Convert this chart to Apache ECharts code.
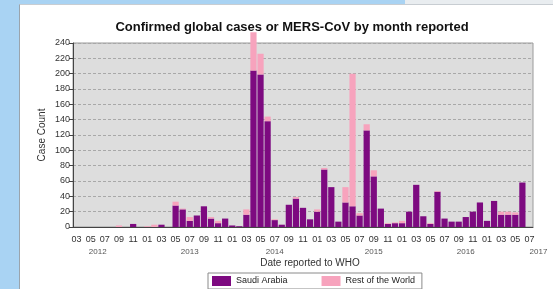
<!DOCTYPE html>
<html>
<head>
<meta charset="utf-8">
<title>MERS-CoV by month</title>
<script src="https://cdn.jsdelivr.net/npm/echarts@6/dist/echarts.min.js"></script>
<style>
  html, body { margin: 0; padding: 0; width: 553px; height: 289px; overflow: hidden; background: #a9d3f3; }
  #strip { position: absolute; left: 405px; top: 0; width: 148px; height: 4px; background: #e9edf0; }
  #frame { position: absolute; left: 19px; top: 4px; width: 534px; height: 285px; background: #fff;
           border-left: 1px solid #9aa4ad; border-top: 1px solid #c8cdd2; box-sizing: border-box; }
  #main { position: absolute; left: 0; top: 0; width: 553px; height: 289px; }
</style>
</head>
<body>
<div id="strip"></div>
<div id="frame"></div>
<div id="main"></div>
<script>
// months reported (category axis)
var months = [
  '2012-03','2012-04','2012-05','2012-06','2012-07','2012-08','2012-09','2012-10','2012-11','2012-12',
  '2013-01','2013-02','2013-03','2013-04','2013-05','2013-06','2013-07','2013-08','2013-09','2013-10','2013-11','2013-12',
  '2014-01','2014-02','2014-03','2014-04','2014-05','2014-06','2014-07','2014-08','2014-09','2014-10','2014-11','2014-12',
  '2015-01','2015-02','2015-03','2015-04','2015-05','2015-06','2015-07','2015-08','2015-09','2015-10','2015-11','2015-12',
  '2016-01','2016-02','2016-03','2016-04','2016-05','2016-06','2016-07','2016-08','2016-09','2016-10','2016-11','2016-12',
  '2017-01','2017-02','2017-03','2017-04','2017-05','2017-06','2017-07'
];
// Saudi Arabia cases per month
var saudi = [
  0, 0, 0, 0, 0, 0, 0, 0, 4, 0,
  0, 0, 3, 0, 28, 23, 8, 15, 27, 11, 5, 11,
  2, 1, 16, 204, 199, 138, 9, 3, 29, 37, 25, 10,
  20, 75, 52, 7, 32, 27, 15, 126, 66, 24, 4, 5,
  5, 20, 55, 14, 4, 46, 11, 7, 7, 13, 20, 32,
  8, 34, 16, 16, 16, 58, 0
];
// rest of the world cases per month
var rest = [
  0, 0, 0, 0, 0, 0, 2, 0, 0, 0,
  1, 3, 0, 0, 5, 1, 5, 0, 0, 2, 3, 0,
  0, 0, 7, 50, 27, 6, 1, 0, 0, 2, 0, 0,
  3, 2, 0, 0, 20, 173, 3, 8, 8, 0, 1, 1,
  3, 0, 0, 0, 1, 1, 0, 0, 0, 0, 0, 0,
  0, 0, 4, 4, 3, 0, 0
];
// year labels under the month ticks
var yearLabels = ['2012', '2013', '2014', '2015', '2016', '2017'];
var yearAt = ['2012-06', '2013-07', '2014-07', '2015-09', '2016-10', '2017-07'];

var myChart = echarts.init(document.getElementById('main'));

var option = {
    backgroundColor: 'transparent',
    animation: false,
    textStyle: { fontFamily: 'Liberation Sans' },
    title: {
        text: 'Confirmed global cases or MERS-CoV by month reported',
        left: 287,
        top: 16,
        textAlign: 'center',
        textStyle: { fontSize: 13, fontWeight: 'bold', color: '#111', fontFamily: 'Liberation Sans' }
    },
    legend: {
        left: 208,
        top: 273,
        icon: 'rect',
        itemWidth: 19,
        itemHeight: 10,
        itemGap: 34,
        padding: [3, 7, 3, 4],
        borderColor: '#8a8a8a',
        borderWidth: 1,
        backgroundColor: '#fff',
        textStyle: { fontSize: 9, color: '#222' },
        data: ['Saudi Arabia', 'Rest of the World']
    },
    grid: {
        left: 73,
        right: 20,
        top: 43,
        bottom: 62,
        show: true,
        backgroundColor: '#dddddd',
        borderColor: '#9a9a9a',
        borderWidth: 1
    },
    xAxis: [{
        type: 'category',
        data: months,
        name: 'Date reported to WHO',
        nameLocation: 'middle',
        nameGap: 31,
        nameTextStyle: { fontSize: 10, color: '#333', padding: [0, 0, 0, 14] },
        axisLine: { lineStyle: { color: '#444' } },
        axisTick: { interval: 1, alignWithLabel: true, length: 4, lineStyle: { color: '#444' } },
        axisLabel: {
            interval: 1,
            margin: 8,
            fontSize: 9,
            color: '#333',
            formatter: function (v) { return v.slice(5); }
        },
        splitLine: { show: false }
    }, {
        type: 'category',
        data: months,
        position: 'bottom',
        axisLine: { show: false },
        axisTick: { show: false },
        splitLine: { show: false },
        axisLabel: {
            interval: function (i, v) { return yearAt.indexOf(v) >= 0; },
            margin: 21,
            fontSize: 8,
            color: '#555',
            formatter: function (v) {
                var k = yearAt.indexOf(v);
                if (k < 0) return '';
                return k === yearAt.length - 1 ? '{e|' + yearLabels[k] + '}' : yearLabels[k];
            },
            rich: { e: { fontSize: 8, color: '#555', padding: [0, 0, 0, 18] } }
        }
    }],
    yAxis: {
        type: 'value',
        min: 0,
        max: 240,
        interval: 20,
        name: 'Case Count',
        nameLocation: 'middle',
        nameGap: 26,
        nameMoveOverlap: false,
        nameTextStyle: { fontSize: 10, color: '#333' },
        axisLine: { show: true, lineStyle: { color: '#444' } },
        axisTick: { show: true, length: 4, lineStyle: { color: '#444' } },
        axisLabel: { fontSize: 9, color: '#333', margin: 3 },
        splitLine: { lineStyle: { color: '#a8a8a8', type: [3, 2] } }
    },
    series: [{
        name: 'Saudi Arabia',
        type: 'bar',
        stack: 'total',
        barCategoryGap: '12%',
        itemStyle: { color: '#7d0a80' },
        data: saudi
    }, {
        name: 'Rest of the World',
        type: 'bar',
        stack: 'total',
        clip: false,
        itemStyle: { color: '#f7a3bd' },
        data: rest
    }]
};

myChart.setOption(option);
</script>
</body>
</html>
